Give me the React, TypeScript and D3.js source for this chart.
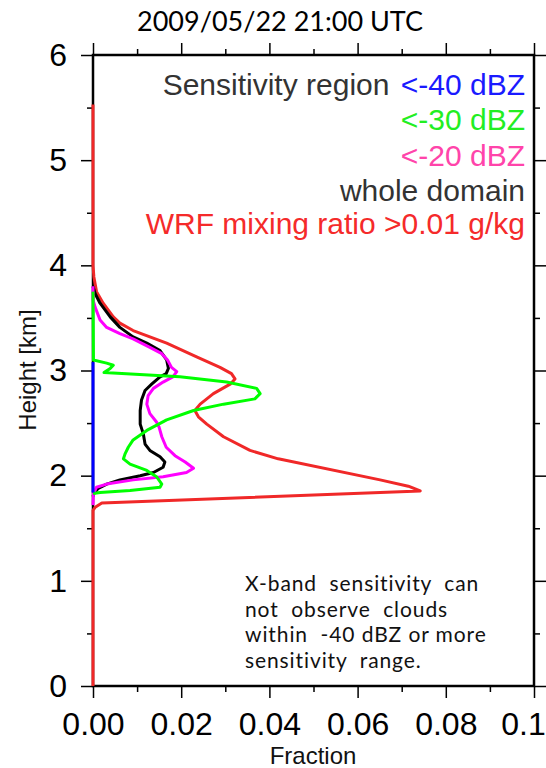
import React, { useEffect, useRef } from "react";
import * as d3 from "d3";

// height [km] / fraction pairs
const redKm = [0, 1.67, 1.7, 1.74, 1.855, 1.9, 1.96, 2.16, 2.24, 2.37, 2.49, 2.56, 2.62, 2.68, 2.78, 2.87, 2.92, 2.97, 3.03, 3.13, 3.26, 3.38, 3.45, 3.51, 3.64, 3.75, 3.89, 4.0, 5.53];
const redFrac = [0, 0, 0.0005, 0.002, 0.0742, 0.0715, 0.0651, 0.042, 0.0356, 0.0296, 0.0258, 0.0239, 0.0231, 0.0243, 0.0273, 0.0311, 0.0322, 0.0314, 0.0288, 0.0235, 0.0167, 0.0091, 0.0061, 0.0046, 0.0023, 0.0008, 0.0002, 0, 0];

const blackKm = [1.8, 1.83, 1.88, 1.92, 1.96, 2.0, 2.03, 2.08, 2.13, 2.18, 2.24, 2.3, 2.4, 2.49, 2.62, 2.72, 2.81, 2.87, 2.94, 2.97, 3.02, 3.1, 3.19, 3.26, 3.32, 3.41, 3.51, 3.64, 3.73, 3.8];
const blackFrac = [0, 0.0002, 0.0012, 0.0031, 0.0061, 0.0107, 0.0137, 0.0159, 0.0163, 0.0152, 0.0129, 0.0118, 0.0114, 0.0107, 0.0107, 0.011, 0.0118, 0.0133, 0.0152, 0.0166, 0.0171, 0.0167, 0.0152, 0.0122, 0.0091, 0.0061, 0.0039, 0.0016, 0.0005, 0];

const magentaKm = [1.72, 1.83, 1.89, 1.92, 1.96, 1.99, 2.03, 2.07, 2.13, 2.19, 2.27, 2.37, 2.46, 2.51, 2.59, 2.68, 2.76, 2.83, 2.89, 2.94, 2.99, 3.03, 3.1, 3.16, 3.22, 3.3, 3.35, 3.41, 3.48, 3.6, 3.67, 3.8];
const magentaFrac = [0, 0.0001, 0.0008, 0.0031, 0.0091, 0.0159, 0.0212, 0.0228, 0.0209, 0.0186, 0.0166, 0.0156, 0.015, 0.0144, 0.0129, 0.0122, 0.0125, 0.0137, 0.0159, 0.0181, 0.019, 0.0178, 0.0169, 0.0156, 0.0129, 0.0091, 0.0061, 0.0031, 0.0016, 0.0005, 0, 0];

const greenKm = [1.83, 1.84, 1.86, 1.89, 1.92, 1.99, 2.05, 2.11, 2.16, 2.21, 2.27, 2.34, 2.43, 2.53, 2.62, 2.68, 2.73, 2.78, 2.83, 2.89, 2.94, 2.98, 3.02, 3.05, 3.07, 3.1, 3.75];
const greenFrac = [0, 0.0016, 0.0084, 0.0152, 0.0156, 0.0144, 0.0122, 0.0084, 0.0069, 0.0073, 0.008, 0.0091, 0.0122, 0.0167, 0.0228, 0.0296, 0.0367, 0.0379, 0.0371, 0.0303, 0.0197, 0.0025, 0.0039, 0.0046, 0.0031, 0.0001, 0];

const blueKm = [1.84, 3.08];
const blueFrac = [0, 0];

const xMajor = [0, 0.02, 0.04, 0.06, 0.08, 0.1];
const xMajorLabels = ["0.00", "0.02", "0.04", "0.06", "0.08", "0.1"];
const xMinor = [0.01, 0.03, 0.05, 0.07, 0.09];
const yMajor = [0, 1, 2, 3, 4, 5, 6];
const yMinor = [0.5, 1.5, 2.5, 3.5, 4.5, 5.5];

const legendLines = [
  [{ t: "Sensitivity region", c: "#333333" }, { t: " <-40 dBZ", c: "#1a1aff" }],
  [{ t: "<-30 dBZ", c: "#22ee22" }],
  [{ t: "<-20 dBZ", c: "#ff44aa" }],
  [{ t: "whole domain", c: "#333333" }],
  [{ t: "WRF mixing ratio >0.01 g/kg", c: "#f52a2a" }],
];
const legendY = [95, 130, 166, 201, 234];

const noteLines = ["X-band  sensitivity  can", "not  observe  clouds", "within  -40 dBZ or more", "sensitivity  range."];

const App = () => {
  const ref = useRef(null);

  useEffect(() => {
    const svg = d3.select(ref.current);
    svg.selectAll("*").remove();

    const left = 93, top = 55, right = 534, bottom = 686;
    const x = d3.scaleLinear().domain([0, 0.1]).range([left, right]);
    const y = d3.scaleLinear().domain([0, 6]).range([bottom, top]);
    const axisFont = "'Liberation Sans', Arial, sans-serif";

    svg.append("rect").attr("width", 546).attr("height", 768).attr("fill", "white");

    svg.append("text").attr("x", 280).attr("y", 31).attr("text-anchor", "middle")
      .style("font-family", "Lato, sans-serif").style("font-size", "27px").attr("fill", "black")
      .text("2009/05/22 21:00 UTC");

    // axes on four sides, ticks pointing outward
    const styleAxis = (g) => {
      g.select(".domain").remove();
      g.selectAll("line").attr("stroke", "black").attr("stroke-width", 1.5);
      g.selectAll("text").style("font-family", axisFont).style("font-size", "32px").attr("fill", "black");
    };

    const xAxisG = svg.append("g").attr("transform", `translate(0,${bottom})`)
      .call(d3.axisBottom(x).tickValues(xMajor).tickFormat((d, i) => xMajorLabels[i]).tickSize(12).tickPadding(14).tickSizeOuter(0))
      .call(styleAxis);
    // last label sits a bit left of its tick, as in the original
    xAxisG.selectAll("text").filter((d) => d === 0.1).attr("dx", -11);
    svg.append("g").attr("transform", `translate(0,${bottom})`)
      .call(d3.axisBottom(x).tickValues(xMinor).tickFormat(() => "").tickSize(6).tickSizeOuter(0))
      .call(styleAxis);
    svg.append("g").attr("transform", `translate(0,${top})`)
      .call(d3.axisTop(x).tickValues(xMajor).tickFormat(() => "").tickSize(12).tickSizeOuter(0))
      .call(styleAxis);
    svg.append("g").attr("transform", `translate(0,${top})`)
      .call(d3.axisTop(x).tickValues(xMinor).tickFormat(() => "").tickSize(6).tickSizeOuter(0))
      .call(styleAxis);
    svg.append("g").attr("transform", `translate(${left},0)`)
      .call(d3.axisLeft(y).tickValues(yMajor).tickFormat(d3.format("d")).tickSize(12).tickPadding(14).tickSizeOuter(0))
      .call(styleAxis);
    svg.append("g").attr("transform", `translate(${left},0)`)
      .call(d3.axisLeft(y).tickValues(yMinor).tickFormat(() => "").tickSize(6).tickSizeOuter(0))
      .call(styleAxis);
    svg.append("g").attr("transform", `translate(${right},0)`)
      .call(d3.axisRight(y).tickValues(yMajor).tickFormat(() => "").tickSize(12).tickSizeOuter(0))
      .call(styleAxis);
    svg.append("g").attr("transform", `translate(${right},0)`)
      .call(d3.axisRight(y).tickValues(yMinor).tickFormat(() => "").tickSize(6).tickSizeOuter(0))
      .call(styleAxis);

    svg.append("rect").attr("x", left).attr("y", top).attr("width", right - left).attr("height", bottom - top)
      .attr("fill", "none").attr("stroke", "black").attr("stroke-width", 2.5);

    svg.append("text").attr("x", 313).attr("y", 764).attr("text-anchor", "middle")
      .style("font-family", axisFont).style("font-size", "24px").attr("fill", "#111").text("Fraction");
    svg.append("text").attr("transform", "translate(36,370) rotate(-90)").attr("text-anchor", "middle")
      .style("font-family", axisFont).style("font-size", "24px").attr("fill", "#111").text("Height [km]");

    const line = d3.line().x(d => x(d[1])).y(d => y(d[0]));
    const series = [
      { km: redKm, fr: redFrac, c: "#f02828" },
      { km: blackKm, fr: blackFrac, c: "#000000" },
      { km: magentaKm, fr: magentaFrac, c: "#ff00ff" },
      { km: greenKm, fr: greenFrac, c: "#00ff00" },
      { km: blueKm, fr: blueFrac, c: "#0000ff" },
    ];
    svg.append("g").selectAll("path").data(series).join("path")
      .attr("d", s => line(s.km.map((k, i) => [k, s.fr[i]])))
      .attr("fill", "none").attr("stroke", s => s.c).attr("stroke-width", 3)
      .attr("stroke-linejoin", "round");

    const leg = svg.append("g").style("font-family", axisFont).style("font-size", "30px");
    legendLines.forEach((parts, i) => {
      const t = leg.append("text").attr("x", 525).attr("y", legendY[i]).attr("text-anchor", "end")
        .style("white-space", "pre");
      parts.forEach((p, j) => t.append("tspan").attr("dx", j > 0 ? 3 : 0).attr("fill", p.c).text(p.t));
    });

    const note = svg.append("g").style("font-family", "Lato, sans-serif").style("font-size", "21px")
      .style("letter-spacing", "0.9px");
    noteLines.forEach((s, i) => {
      note.append("text").attr("x", 245).attr("y", 591 + i * 25.5).attr("fill", "#111")
        .style("white-space", "pre").text(s);
    });
  }, []);

  return <svg ref={ref} width={546} height={768} style={{ position: "absolute", left: 0, top: 0 }} />;
};

export default App;
